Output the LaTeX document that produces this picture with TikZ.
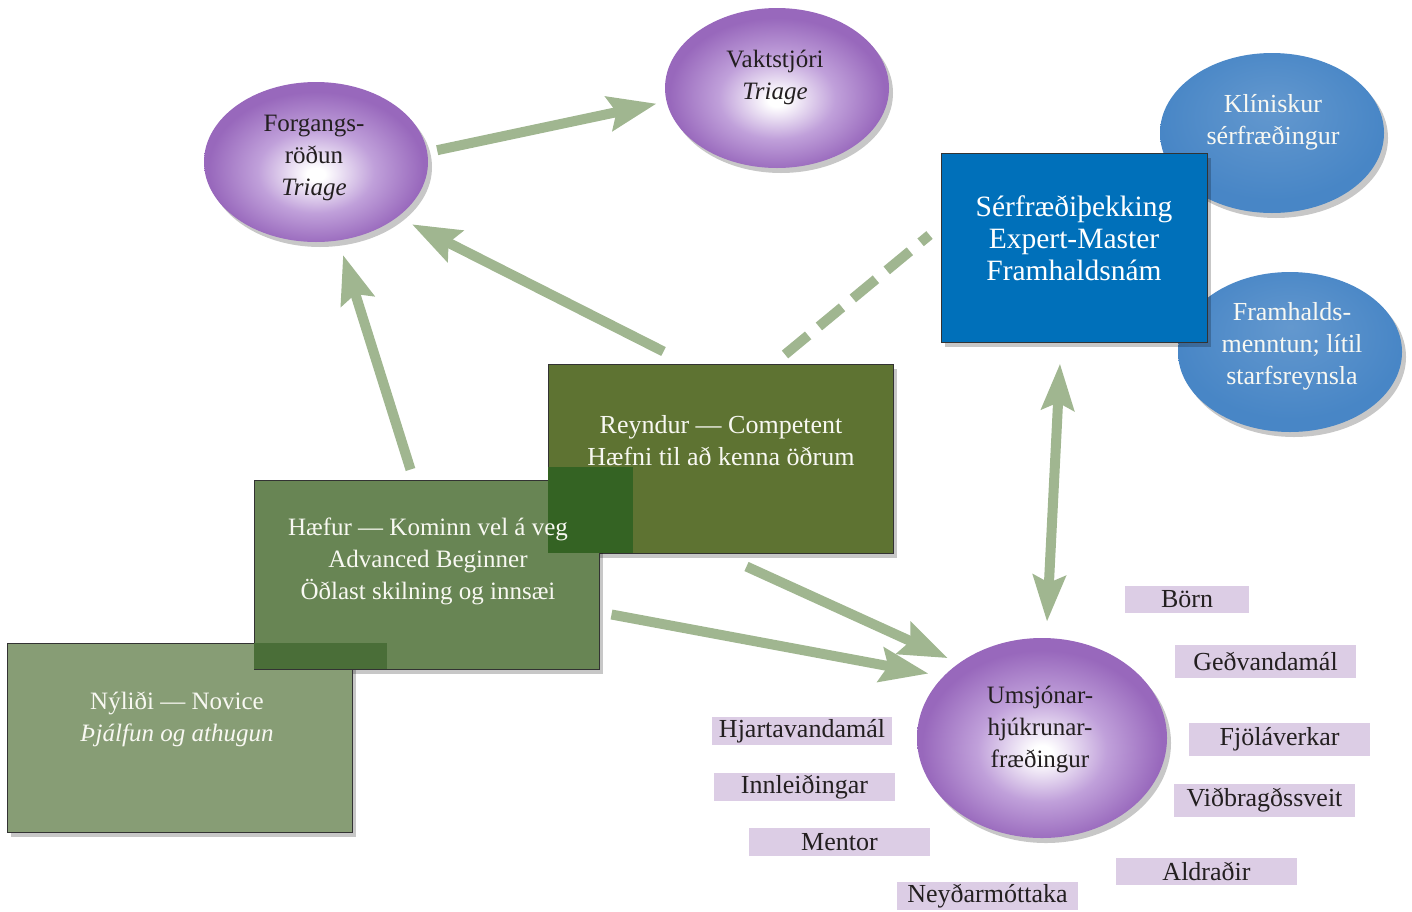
\documentclass[tikz,border=0pt]{standalone}
\usepackage{fontspec}
\setmainfont{Liberation Serif}
\usetikzlibrary{arrows.meta,shadows,shapes.geometric}
\definecolor{arrowG}{RGB}{160,182,144}
\definecolor{purpE}{RGB}{152,104,188}
\definecolor{purpM}{RGB}{192,160,218}
\definecolor{blueE}{RGB}{72,134,198}
\definecolor{expC}{RGB}{0,112,186}
\definecolor{reyC}{RGB}{94,115,50}
\definecolor{haeC}{RGB}{104,133,84}
\definecolor{nylC}{RGB}{135,157,117}
\definecolor{ovA}{RGB}{52,99,35}
\definecolor{ovB}{RGB}{74,110,56}
\definecolor{tagC}{RGB}{220,205,229}
\definecolor{ink}{RGB}{35,31,32}
\definecolor{paper}{RGB}{248,248,242}
\pgfdeclareradialshading{purpsh}{\pgfpoint{0bp}{-4bp}}{color(0bp)=(white);color(2bp)=(white);color(13bp)=(purpM);color(24bp)=(purpE);color(50bp)=(purpE)}
\pgfdeclareradialshading{bluesh}{\pgfpoint{0bp}{8bp}}{color(0bp)=(blueE!85!white);color(25bp)=(blueE);color(50bp)=(blueE)}
\begin{document}
\begin{tikzpicture}[x=1pt,y=-1pt,
  shd/.style={drop shadow={shadow xshift=4pt,shadow yshift=-5pt,opacity=0.22,fill=black}},
  purp/.style={ellipse,inner sep=0pt,minimum width=224pt,minimum height=160pt,shading=purpsh,shd},
  blueell/.style={ellipse,inner sep=0pt,minimum width=224pt,minimum height=160pt,shading=bluesh,shd},
  gbox/.style={rectangle,inner sep=0pt,draw=black!80,line width=1pt,minimum width=345pt,minimum height=189pt,shd},
  expbox/.style={rectangle,inner sep=0pt,draw=black!80,line width=1pt,fill=expC,minimum width=266pt,minimum height=189pt,shd},
  tag/.style={rectangle,inner sep=0pt,fill=tagC,text=ink,font=\fontsize{26}{32}\selectfont},
  dtxt/.style={align=center,text=ink,font=\fontsize{25}{32}\selectfont},
  wtxt/.style={align=center,text=paper,font=\fontsize{25}{32}\selectfont},
  wtxtb/.style={align=center,text=paper,font=\fontsize{26}{32}\selectfont},
  etxt/.style={align=center,text=white,font=\fontsize{29.5}{32}\selectfont},
  arr/.style={line width=10pt,draw=arrowG,-{Stealth[length=48pt,width=34pt,inset=7pt]}},
  darr/.style={line width=10pt,draw=arrowG,{Stealth[length=46pt,width=32pt,inset=7pt]}-{Stealth[length=46pt,width=32pt,inset=7pt]}},
  dsh/.style={line width=10pt,draw=arrowG,dash pattern=on 30pt off 14pt}
]
\useasboundingbox (0,0) rectangle (1412,911);
% ellipses
\node[purp] (forg) at (316,162) {};
\node[purp] (vakt) at (777,88) {};
\node[blueell] (klin) at (1272,133) {};
\node[blueell] (framh) at (1290,352) {};
\node[expbox] (exp) at (1074,247.5) {};
\node[purp,minimum width=250pt,minimum height=200pt] (umsj) at (1042,738) {};
% green boxes
\node[gbox,fill=reyC] (rey) at (720.5,458.5) {};
\node[gbox,fill=haeC] (hae) at (426.5,574.5) {};
\fill[ovA] (548,467) rectangle (633,553);
\node[gbox,fill=nylC] (nyl) at (179.5,737.5) {};
\fill[ovB] (254,643) rectangle (387,669);
\draw[black!80,line width=1pt] (254,669) -- (387,669);
% texts
\node[dtxt] (forgT) at (314,158) {Forgangs-\\röðun\\\textit{Triage}};
\node[dtxt] (vaktT) at (775,77) {Vaktstjóri\\\textit{Triage}};
\node[wtxtb] (klinT) at (1273,122) {Klíniskur\\sérfræðingur};
\node[wtxtb] (framhT) at (1292,346) {Framhalds-\\menntun; lítil\\starfsreynsla};
\node[etxt] (expT) at (1074,238) {Sérfræðiþekking\\Expert-Master\\Framhaldsnám};
\node[wtxtb] (reyT) at (721,441) {Reyndur — Competent\\Hæfni til að kenna öðrum};
\node[wtxt] (haeT) at (428,561) {Hæfur — Kominn vel á veg\\Advanced Beginner\\Öðlast skilning og innsæi};
\node[wtxt] (nylT) at (177,719) {Nýliði — Novice\\\textit{Þjálfun og athugun}};
\node[dtxt] (umsjT) at (1040,729) {Umsjónar-\\hjúkrunar-\\fræðingur};
% tags
\node[tag,minimum width=124pt,minimum height=27pt] (tBorn) at (1187,599.5) {Börn};
\node[tag,minimum width=181pt,minimum height=33pt] (tGed) at (1265.5,661.5) {Geðvandamál};
\node[tag,minimum width=181pt,minimum height=33pt] (tFjol) at (1279.5,739.5) {Fjöláverkar};
\node[tag,minimum width=181pt,minimum height=33pt] (tVid) at (1264.5,800.5) {Viðbragðssveit};
\node[tag,minimum width=181pt,minimum height=27pt] (tAld) at (1206.5,871.5) {Aldraðir};
\node[tag,minimum width=181pt,minimum height=28pt] (tNey) at (987.5,896) {Neyðarmóttaka};
\node[tag,minimum width=181pt,minimum height=28pt] (tMen) at (839.5,842) {Mentor};
\node[tag,minimum width=181pt,minimum height=28pt] (tInn) at (804.5,787) {Innleiðingar};
\node[tag,minimum width=180pt,minimum height=28pt] (tHja) at (802,731) {Hjartavandamál};
% connectors
\draw[arr,shorten <=10pt,shorten >=10pt] (forg.5) -- (vakt.187);
\draw[arr,shorten >=16pt] ([xshift=-57pt,yshift=12pt]rey.north) -- (forg.-34);
\draw[arr,shorten >=15pt] ([xshift=-16pt,yshift=10pt]hae.north) -- (forg.-74);
\draw[dsh] ([xshift=64.5pt,yshift=9pt]rey.north) -- ([xshift=-11pt,yshift=12.5pt]exp.west);
\draw[darr] ([xshift=5pt,yshift=16pt]umsj.north) -- ([xshift=-14pt,yshift=-21pt]exp.south);
\draw[arr,shorten >=12pt] ([xshift=26pt,yshift=-13pt]rey.south) -- (umsj.138);
\draw[arr,shorten >=15pt] ([xshift=12pt,yshift=-40pt]hae.east) -- (umsj.148);
\end{tikzpicture}
\end{document}
